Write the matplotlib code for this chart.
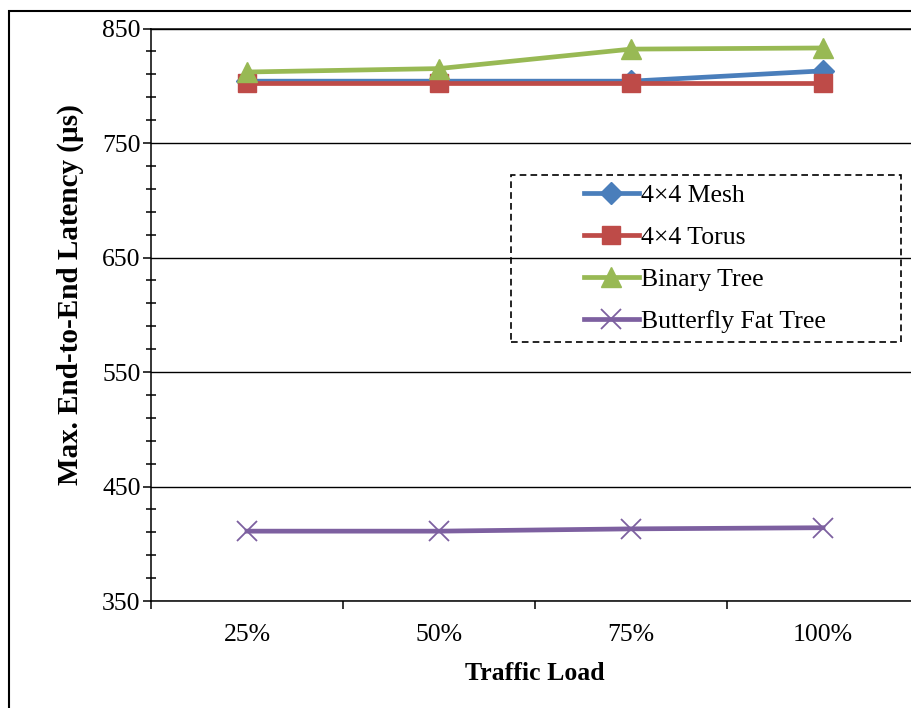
"""
Max. end-to-end latency vs traffic load for four NoC topologies
"""

import numpy as np
import matplotlib
matplotlib.use("Agg")
import matplotlib.pyplot as plt
from matplotlib.patches import Rectangle

loads = ["25%", "50%", "75%", "100%"]
mesh = [804, 804, 804, 813]
torus = [802, 802, 802, 802]
binary_tree = [812, 815, 832, 833]
butterfly = [411, 411, 413, 414]

series_names = ["4\u00d74 Mesh", "4\u00d74 Torus", "Binary Tree", "Butterfly Fat Tree"]

plt.rcParams["font.family"] = ["Liberation Serif", "DejaVu Serif"]

W, H = 911, 708
fig = plt.figure(figsize=(W / 100, H / 100), dpi=100)
ax = fig.add_axes([151 / W, 107 / H, 768 / W, 572.5 / H])

x = np.arange(len(loads))
lw = 3.4
ax.plot(x, mesh, color="#4A7EBB", lw=lw, marker="D", ms=11, label=series_names[0])
ax.plot(x, torus, color="#BE4B48", lw=lw, marker="s", ms=13, label=series_names[1])
ax.plot(x, binary_tree, color="#98B954", lw=lw, marker="^", ms=14, label=series_names[2])
ax.plot(x, butterfly, color="#7D60A0", lw=lw, marker="x", ms=15, mew=1.3,
        label=series_names[3])

ax.set_xlim(-0.5, len(loads) - 0.5)
ax.set_ylim(350, 850)

# y axis: major ticks outside, minor ticks crossing
ax.set_yticks(np.arange(350, 851, 100))
ax.set_yticks(np.arange(350, 851, 20), minor=True)
ax.tick_params(axis="y", which="major", direction="out", length=6, width=1.1,
               pad=1.5, labelsize=18.5)
ax.tick_params(axis="y", which="minor", direction="inout", length=7, width=1.1)
ax.yaxis.grid(True, which="major", color="black", lw=1.0)

# x axis: labels at the category centres, ticks between them
ax.set_xticks(x)
ax.set_xticklabels(loads)
ax.set_xticks(np.arange(-0.5, len(loads)), minor=True)
ax.tick_params(axis="x", which="major", length=0, pad=16.5, labelsize=18.5)
ax.tick_params(axis="x", which="minor", direction="out", length=6, width=1.1)

for side in ["right"]:
    ax.spines[side].set_visible(False)
for side in ["left", "bottom", "top"]:
    ax.spines[side].set_linewidth(1.1)
ax.set_axisbelow(True)

ax.set_xlabel("Traffic Load", fontsize=18.5, fontweight="bold")
ax.xaxis.set_label_coords(0.5, -0.107)
ax.set_ylabel("Max. End-to-End Latency (\u00b5s)", fontsize=21, fontweight="bold")
ax.yaxis.set_label_coords(-0.087, 0.535)

leg = ax.legend(loc="center", bbox_to_anchor=(705 / W, 1 - 258.5 / H),
                bbox_transform=fig.transFigure, frameon=False, fontsize=18.5,
                handlelength=2.15, handletextpad=0.1, labelspacing=0.75)

# dashed legend box and chart-area border
fig.add_artist(Rectangle((511 / W, 1 - 342 / H), 390 / W, 167 / H,
                         transform=fig.transFigure, fill=False,
                         ec="black", lw=1.2, ls=(0, (4, 2.5))))
fig.add_artist(Rectangle((9 / W, -1), 2, 1 + (1 - 11 / H),
                         transform=fig.transFigure, fill=False,
                         ec="black", lw=1.5))

fig.savefig("out.png", dpi=100)
